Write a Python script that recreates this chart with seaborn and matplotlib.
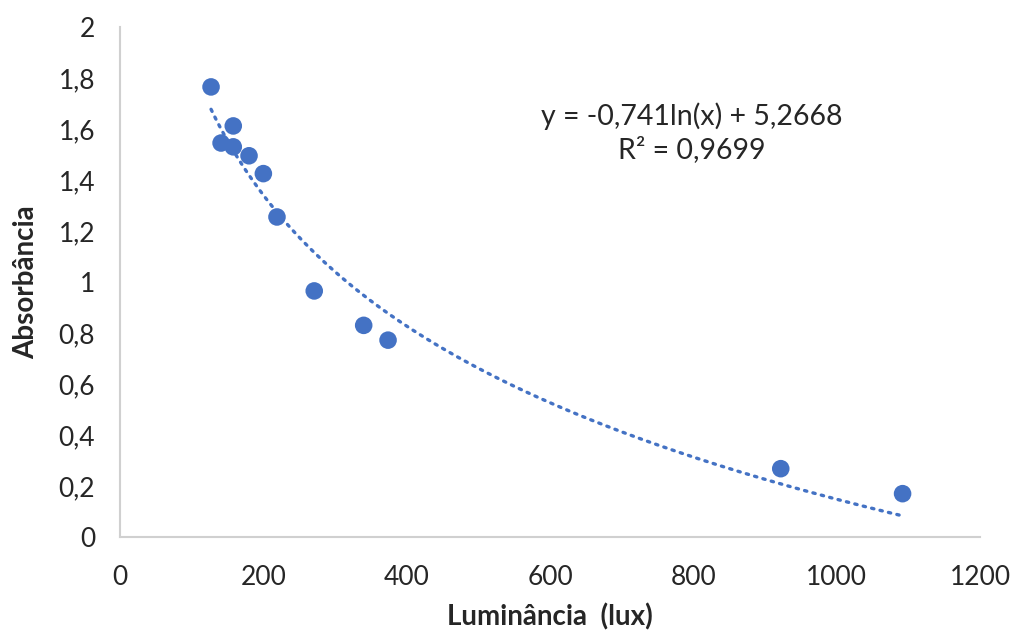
import numpy as np
import pandas as pd
import matplotlib
matplotlib.use("Agg")
import matplotlib.pyplot as plt
import seaborn as sns

luminancia = [127, 141, 158, 158, 180, 200, 219, 271, 340, 374, 922, 1092]
absorbancia = [1.765, 1.545, 1.612, 1.530, 1.495, 1.425, 1.255, 0.965, 0.830, 0.772, 0.268, 0.170]
coef_a = -0.741
coef_b = 5.2668
x_ticks = [0, 200, 400, 600, 800, 1000, 1200]
y_ticks = [0, 0.2, 0.4, 0.6, 0.8, 1, 1.2, 1.4, 1.6, 1.8, 2]
y_tick_labels = ["0", "0,2", "0,4", "0,6", "0,8", "1", "1,2", "1,4", "1,6", "1,8", "2"]
eq_text = "y = -0,741ln(x) + 5,2668\nR² = 0,9699"

sns.set_theme(style="white")
plt.rcParams["font.family"] = ["Lato", "DejaVu Sans"]

color = "#4472C4"
df = pd.DataFrame({"Luminância (lux)": luminancia, "Absorbância": absorbancia})

fig = plt.figure(figsize=(10.19, 6.35), dpi=100)
ax = fig.add_axes([0.1178, 0.1543, 0.8439, 0.8032])

xs = np.linspace(min(luminancia), max(luminancia), 300)
ax.plot(xs, coef_a * np.log(xs) + coef_b, color=color, lw=2.4,
        linestyle=(0, (0.7, 1.9)), dash_capstyle="round", zorder=2)
sns.scatterplot(data=df, x="Luminância (lux)", y="Absorbância", ax=ax,
                color=color, s=160, edgecolor="none", zorder=3)

ax.set_xlim(0, 1200)
ax.set_ylim(0, 2)
ax.set_xticks(x_ticks)
ax.set_xticklabels([str(t) for t in x_ticks])
ax.set_yticks(y_ticks)
ax.set_yticklabels(y_tick_labels)
ax.tick_params(axis="y", labelsize=19, colors="#262626", length=0, pad=18)
ax.tick_params(axis="x", labelsize=19, colors="#262626", length=0, pad=20)
ax.set_xlabel("Luminância  (lux)", fontsize=20, fontweight="bold", color="#262626", labelpad=10)
ax.set_ylabel("Absorbância", fontsize=20, fontweight="bold", color="#262626", labelpad=14)

for s in ["top", "right"]:
    ax.spines[s].set_visible(False)
for s in ["left", "bottom"]:
    ax.spines[s].set_color("#D0D0D0")
    ax.spines[s].set_linewidth(1.5)

ax.text(798, 1.585, eq_text, ha="center", va="center", fontsize=20.5,
        color="#262626", linespacing=1.3)

fig.savefig("out.png", dpi=100)
